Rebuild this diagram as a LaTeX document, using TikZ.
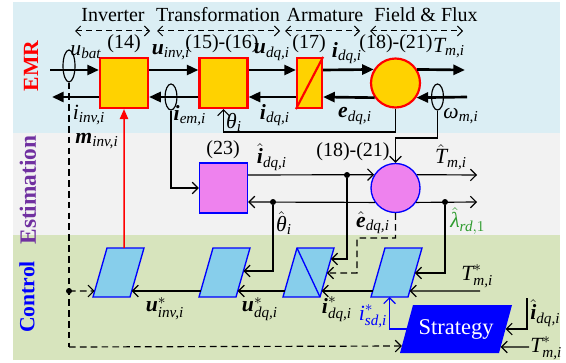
\documentclass[tikz,border=0pt]{standalone}
\usepackage{amsmath}
\usepackage[no-math]{fontspec}
\setmainfont{Liberation Serif}
\usetikzlibrary{arrows.meta,calc,shapes.geometric}
\definecolor{emrbg}{HTML}{DBEEF4}
\definecolor{estbg}{HTML}{F2F2F2}
\definecolor{ctlbg}{HTML}{D7E4BD}
\definecolor{goldf}{HTML}{FFD200}
\definecolor{violetf}{HTML}{EE82EE}
\definecolor{skyf}{HTML}{87CEEB}
\definecolor{purp}{HTML}{7030A0}
\definecolor{grn}{HTML}{2E9B2E}
\definecolor{bblue}{HTML}{0000FF}
\newcommand{\vl}[1]{\textit{#1}}
\newcommand{\vb}[1]{\textbf{\textit{#1}}}
\tikzset{
  emrarrow/.style={line width=1.6pt,-{Triangle[length=7pt,width=6pt]}},
  sig/.style={line width=0.7pt,-{Straight Barb[length=3.5pt,width=7pt]}},
  dsig/.style={sig,dash pattern=on 4pt off 2.5pt},
  ddash/.style={line width=0.7pt,dash pattern=on 4pt off 2.5pt},
  topdash/.style={line width=0.6pt,dash pattern=on 3.5pt off 2.5pt,{Straight Barb[length=3pt,width=6pt]}-{Straight Barb[length=3pt,width=6pt]}},
  emrblock/.style={draw=red,line width=1.3pt,fill=goldf,minimum width=28.8pt,minimum height=30pt,inner sep=0pt},
  estblock/.style={draw=bblue,line width=0.8pt,fill=violetf,minimum width=28.8pt,minimum height=30pt,inner sep=0pt},
  paral/.style={draw=bblue,line width=0.8pt,fill=skyf},
  lbl/.style={inner sep=0pt},
  mlbl/.style={inner sep=0pt,font=\fontsize{13}{15}\selectfont},
  side/.style={rotate=90,font=\bfseries\fontsize{13}{15}\selectfont},
  dot/.style={circle,fill=black,inner sep=0pt,minimum size=3.6pt},
  meas/.style={draw,line width=0.7pt,ellipse,minimum width=7.2pt,inner sep=0pt},
}
\begin{document}
\begin{tikzpicture}[x=0.6pt,y=-0.6pt,font=\fontsize{12}{14}\selectfont]
\useasboundingbox (0,0) rectangle (566,362);
% backgrounds
\fill[emrbg] (13,2) rectangle (560,133);
\fill[estbg] (13,133) rectangle (560,235);
\fill[ctlbg] (13,235) rectangle (560,360);
% side labels
\node[side,red] (lemr) at (31,66) {EMR};
\node[side,purp,font=\bfseries\fontsize{14}{16}\selectfont] (lest) at (28,190) {Estimation};
\node[side,bblue] (lctl) at (27,297) {Control};
% top titles
\node[lbl] (tinv) at (113,15) {Inverter};
\node[lbl] (ttr) at (218,15) {Transformation};
\node[lbl] (tarm) at (325,15) {Armature};
\node[lbl] (tff) at (426,15) {Field \& Flux};
\coordinate (d1a) at (75,31); \coordinate (d1b) at (150,31);
\coordinate (d2a) at (157,31); \coordinate (d2b) at (280,31);
\coordinate (d3a) at (285,31); \coordinate (d3b) at (360,31);
\coordinate (d4a) at (370,31); \coordinate (d4b) at (463,31);
\draw[topdash] (d1a) -- (d1b);
\draw[topdash] (d2a) -- (d2b);
\draw[topdash] (d3a) -- (d3b);
\draw[topdash] (d4a) -- (d4b);
% EMR blocks
\node[emrblock] (b14) at (124,83) {};
\node[emrblock] (b15) at (223.5,83) {};
\node[emrblock,minimum width=15pt] (b17) at (309.5,83) {};
\draw[red,line width=1.3pt] (b17.south west) -- (b17.north east);
\node[circle,draw=red,line width=1.3pt,fill=goldf,minimum size=29.4pt,inner sep=0pt] (c18) at (395.5,83) {};
\node[lbl] (n14) at (124,44) {(14)};
\node[lbl] (n15) at (222,44) {(15)-(16)};
\node[lbl] (n17) at (309,44) {(17)};
\node[lbl] (n18) at (396,44) {(18)-(21)};
% EMR arrows
\coordinate (tp) at (0,70);
\coordinate (bt) at (0,97);
\coordinate (ubin) at (50,70);
\coordinate (tout) at (465,70);
\coordinate (iout) at (52,97);
\coordinate (win) at (467,97);
\draw[emrarrow] (ubin) -- (b14.west |- tp);
\draw[emrarrow] (b14.east |- tp) -- (b15.west |- tp);
\draw[emrarrow] (b15.east |- tp) -- (b17.west |- tp);
\draw[emrarrow] (b17.east |- tp) -- (c18.148);
\draw[emrarrow] (c18.32) -- (tout);
\draw[emrarrow] (win) -- (c18.-35);
\draw[emrarrow] (c18.215) -- (b17.east |- bt);
\draw[emrarrow] (b17.west |- bt) -- (b15.east |- bt);
\draw[emrarrow] (b15.west |- bt) -- (b14.east |- bt);
\draw[emrarrow] (b14.west |- bt) -- (iout);
% ellipses
\node[meas,minimum height=19.2pt] (e1) at (69,66) {};
\node[meas,minimum height=15.6pt] (e2) at (171,97) {};
\node[meas,minimum height=15.6pt] (e3) at (437.5,97) {};
% EMR labels
\node[mlbl] at (86,52) {$\vl{u}_{\vl{bat}}$};
\node[mlbl] at (171,52) {$\vb{u}_{\vl{inv,i}}$};
\node[mlbl] at (272,52) {$\vb{u}_{\vl{dq,i}}$};
\node[mlbl] at (347,53) {$\vb{i}_{\vl{dq,i}}$};
\node[mlbl] at (449,48) {$\vl{T}_{\vl{m,i}}$};
\node[mlbl] at (89,115) {$\vl{i}_{\vl{inv,i}}$};
\node[mlbl] at (190,116) {$\vb{i}_{\vl{em,i}}$};
\node[mlbl] at (234,122) {$\vl{θ}_{\vl{i}}$};
\node[mlbl] at (275,115) {$\vb{i}_{\vl{dq,i}}$};
\node[mlbl] at (355,116) {$\vb{e}_{\vl{dq,i}}$};
\node[mlbl] at (461,116) {$\vl{ω}_{\vl{m,i}}$};
\node[mlbl] at (97,141) {$\vb{m}_{\vl{inv,i}}$};
% Estimation
\node[estblock] (b23) at (223.5,188) {};
\node[circle,draw=bblue,line width=0.8pt,fill=violetf,minimum size=29.4pt,inner sep=0pt] (c2) at (395.5,188) {};
\node[lbl] at (223,150) {(23)};
\node[lbl] at (353,152) {(18)-(21)};
\coordinate (ya) at (0,175);
\coordinate (yb) at (0,202);
\coordinate (tho) at (477,175);
\coordinate (lao) at (477,202);
\draw[sig] (b23.east |- ya) -- (c2.148);
\draw[sig] (c2.32) -- (tho);
\draw[sig] (c2.-35) -- (lao);
\draw[sig] (c2.215) -- (b23.east |- yb);
\node[dot] (dI) at (347,175) {};
\node[dot] (dT) at (273,202) {};
\node[dot] (dL) at (445,202) {};
\node[mlbl] at (272,157) {$\hat{\vb{i}}_{\vl{dq,i}}$};
\node[mlbl] at (451,157) {$\hat{\vl{T}}_{\vl{m,i}}$};
\node[mlbl] at (284,223) {$\hat{\vl{θ}}_{\vl{i}}$};
\node[mlbl] at (373,223) {$\hat{\vb{e}}_{\vl{dq,i}}$};
\node[mlbl,grn,anchor=west] at (450,221) {$\hat{\vl{λ}}_{\vl{rd},1}$};
% measurement paths
\draw[sig] (e2.south) |- (b23.west |- 0,188);
\draw[sig] (c18.south) -- (395.5,132) -| (b15.south);
\draw[sig] (e3.south) -- (437.5,138) -| (c2.north);
% Control parallelograms
\foreach \n/\xb in {P1/93,P2/199,P3/283,P4/371}{
  \coordinate (\n bl) at (\xb,297);
  \coordinate (\n br) at (\xb+37,297);
  \coordinate (\n tr) at (\xb+51,248);
  \coordinate (\n tl) at (\xb+14,248);
  \draw[paral] (\n bl) -- (\n br) -- (\n tr) -- (\n tl) -- cycle;
}
\draw[bblue,line width=0.8pt] (P3tl) -- (P3br);
% Strategy
\coordinate (Sbl) at (400,353); \coordinate (Sbr) at (499,353);
\coordinate (Str) at (512,305); \coordinate (Stl) at (413,305);
\fill[bblue] (Sbl) -- (Sbr) -- (Str) -- (Stl) -- cycle;
\node[white,lbl,font=\fontsize{13.5}{15}\selectfont] (strat) at (456,329) {Strategy};
% red command
\draw[red,line width=0.9pt,-{Triangle[length=6pt,width=5pt]}] ($(P1tl)!0.46!(P1tr)$) -- (b14.south);
% dashed battery path
\coordinate (dk) at (69,291);
\coordinate (dc) at (69,347);
\draw[ddash] (e1.south) -- (dc);
\draw[dsig] (dc) -- ($(Sbl)!0.146!(Stl)$);
\draw[dsig] (dk) -- ($(P1bl)!0.122!(P1tl)$);
\node[dot] at (dk) {};
% main control chain
\coordinate (tsin) at (480,291);
\draw[sig] (tsin) -- ($(P4br)!0.122!(P4tr)$);
\draw[sig] ($(P4bl)!0.122!(P4tl)$) -- ($(P3br)!0.122!(P3tr)$);
\draw[sig] ($(P3bl)!0.122!(P3tl)$) -- ($(P2br)!0.122!(P2tr)$);
\draw[sig] ($(P2bl)!0.122!(P2tl)$) -- ($(P1br)!0.122!(P1tr)$);
% feedbacks from estimation
\draw[sig] (dT) |- ($(P2br)!0.531!(P2tr)$);
\draw[sig] (dI) |- ($(P3br)!0.776!(P3tr)$);
\draw[sig] (dL) |- ($(P4br)!0.49!(P4tr)$);
\draw[dsig] (c2.south) -- (395.5,238) -| (357,273) -- ($(P3br)!0.49!(P3tr)$);
% strategy connections
\draw[sig,bblue] ($(Sbl)!0.5!(Stl)$) -| ($(P4bl)!0.5!(P4br)$);
\coordinate (iin) at (527,298);
\coordinate (tin) at (529,347);
\draw[sig] (iin) |- ($(Sbr)!0.5!(Str)$);
\draw[sig] (tin) -- ($(Sbr)!0.125!(Str)$);
% control labels
\node[mlbl] at (165,309) {$\vb{u}^{*}_{\vl{inv,i}}$};
\node[mlbl] at (260,309) {$\vb{u}^{*}_{\vl{dq,i}}$};
\node[mlbl] at (337,309) {$\vb{i}^{*}_{\vl{dq,i}}$};
\node[mlbl,anchor=west] at (461,276) {$\vl{T}^{*}_{\vl{m,i}}$};
\node[mlbl,bblue] at (373,316) {$\vl{i}^{*}_{\vl{sd,i}}$};
\node[mlbl,anchor=west] at (530,313) {$\hat{\vb{i}}_{\vl{dq,i}}$};
\node[mlbl,anchor=west] at (530,348) {$\vl{T}^{*}_{\vl{m,i}}$};
\end{tikzpicture}
\end{document}
